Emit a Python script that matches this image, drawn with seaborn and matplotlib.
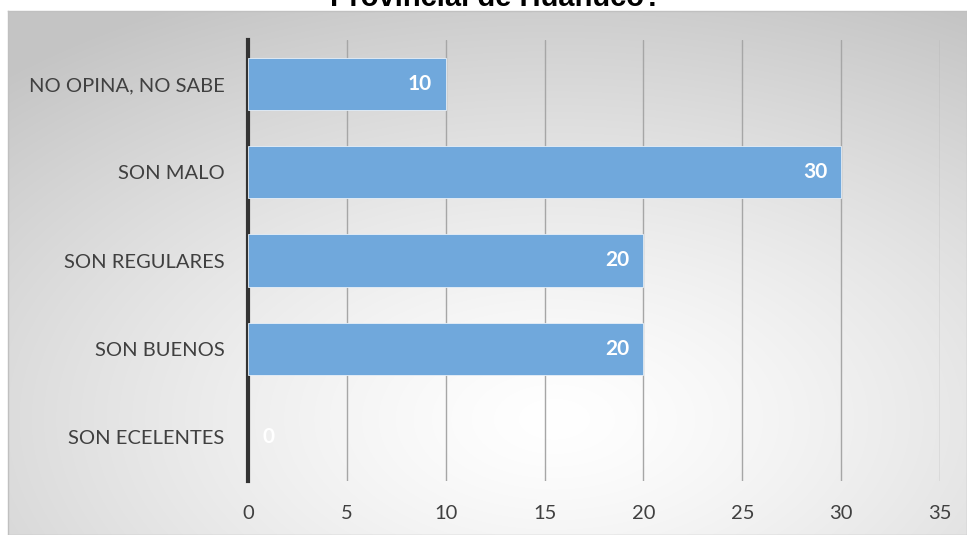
import numpy as np
import pandas as pd
import matplotlib
matplotlib.use("Agg")
import matplotlib.pyplot as plt
import seaborn as sns

categories = ["NO OPINA, NO SABE", "SON MALO", "SON REGULARES", "SON BUENOS", "SON ECELENTES"]
values = [10, 30, 20, 20, 0]
x_ticks = [0, 5, 10, 15, 20, 25, 30, 35]
title = "Provincial de Huánuco?"

df = pd.DataFrame({"categoria": categories, "valor": values})

sns.set_theme(style="white")
plt.rcParams["font.family"] = ["Lato", "DejaVu Sans"]

W, H = 967, 535
fig = plt.figure(figsize=(W / 100, H / 100), dpi=100)
fig.patch.set_facecolor("white")

# Chart-area panel with a soft radial gradient
px0, py1 = 8 / W, 1 - 11 / H
bg = fig.add_axes([px0, 0, 1 - px0, py1], zorder=0)
yy, xx = np.mgrid[0:1:300j, 0:1:500j]
cx, cy = 0.57, 0.78
r = np.sqrt(((xx - cx) * 1.0) ** 2 + ((yy - cy) * 0.95) ** 2)
g = 1.0 - 0.23 * np.clip(r / 0.85, 0, 1) ** 1.3
img = np.dstack([g, g, g])
bg.imshow(img, aspect="auto", extent=[0, 1, 1, 0], interpolation="bilinear")
bg.set_xlim(0, 1)
bg.set_ylim(1, 0)
bg.set_xticks([])
bg.set_yticks([])
for s in bg.spines.values():
    s.set_color("#c0c0c0")
    s.set_linewidth(1.0)

# Title running off the top edge of the figure
fig.text(496 / W, 1 - 6 / H, title, ha="center", va="baseline",
         fontsize=21, fontweight="bold", color="black",
         family=["Liberation Sans", "DejaVu Sans"])

ax = fig.add_axes([248 / W, 1 - 481 / H, (940 - 248) / W, (481 - 40) / H], zorder=1)
ax.patch.set_alpha(0)

sns.barplot(data=df, y="categoria", x="valor", orient="h", order=categories,
            color="#70a8dc", saturation=1, width=0.59, ax=ax, zorder=3)
for p, v in zip(ax.patches, values):
    if v > 0:
        p.set_edgecolor("#e8f0f8")
        p.set_linewidth(0.6)
    else:
        p.set_linewidth(0)

ax.set_xlim(0, 35)
ax.set_ylim(len(categories) - 0.5, -0.5)
ax.set_xticks(x_ticks)
ax.set_xticklabels([str(t) for t in x_ticks])
ax.grid(axis="x", color="#a6a6a6", linewidth=1.0, zorder=0)
ax.grid(axis="y", visible=False)
ax.set_axisbelow(True)
ax.set_xlabel("")
ax.set_ylabel("")
for side in ["top", "right", "bottom"]:
    ax.spines[side].set_visible(False)
ax.spines["left"].set_color("#333333")
ax.spines["left"].set_linewidth(3)
ax.tick_params(axis="both", length=0, colors="#404040", labelsize=14.5)
ax.tick_params(axis="x", pad=17)
ax.tick_params(axis="y", pad=17)

for i, v in enumerate(values):
    if v > 0:
        ax.text(v - 0.7, i, str(v), ha="right", va="center", color="white",
                fontsize=15, fontweight="bold", zorder=5)
    else:
        ax.text(v + 0.75, i, str(v), ha="left", va="center", color="white",
                fontsize=15, fontweight="bold", zorder=5)

fig.savefig("out.png", dpi=100)
